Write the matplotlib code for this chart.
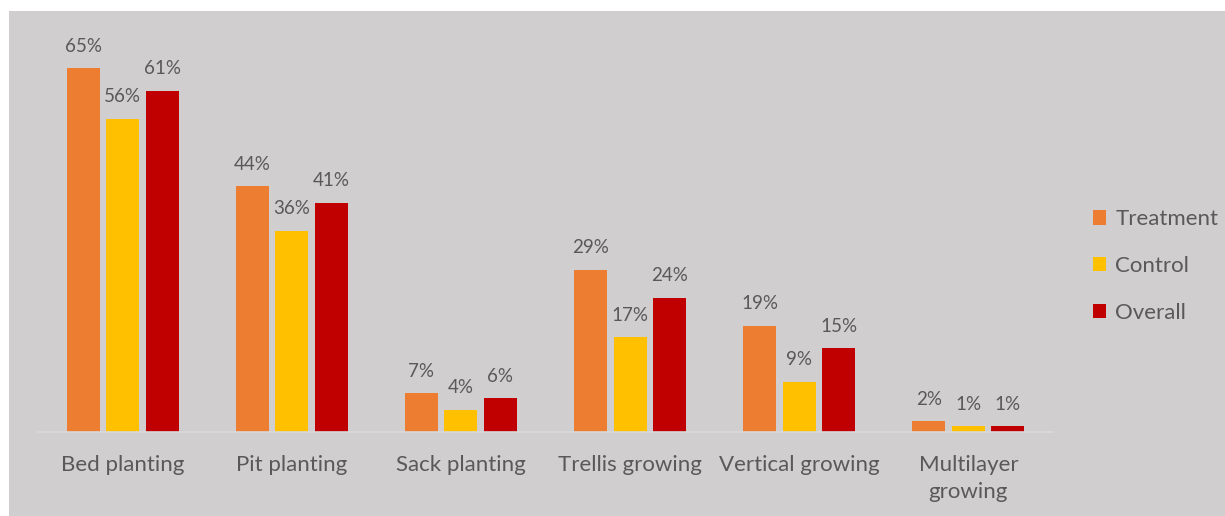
import matplotlib
matplotlib.use("Agg")
import matplotlib.pyplot as plt
from matplotlib.patches import Rectangle, Patch
import numpy as np

categories = ["Bed planting", "Pit planting", "Sack planting", "Trellis growing",
              "Vertical growing", "Multilayer\ngrowing"]
treatment = [65, 44, 7, 29, 19, 2]
control = [56, 36, 4, 17, 9, 1]
overall = [61, 41, 6, 24, 15, 1]

series_names = ["Treatment", "Control", "Overall"]
series_values = [treatment, control, overall]
series_colors = ["#ED7D31", "#FFC000", "#C00000"]

plt.rcParams["font.family"] = ["Lato", "DejaVu Sans"]
text_color = "#595959"
bg_color = "#D0CECE"

W, H = 1225, 516
fig = plt.figure(figsize=(W / 100, H / 100), dpi=100)
fig.patch.set_facecolor("white")
fig.patches.append(Rectangle((9 / W, 0), 1 - 9 / W, (H - 11) / H,
                             transform=fig.transFigure, facecolor=bg_color,
                             edgecolor="none", zorder=-10))

ax = fig.add_axes([38 / W, (H - 432) / H, (1053 - 38) / W, (432 - 29) / H])
ax.set_facecolor("none")

x = np.arange(len(categories))
width = 0.195
offsets = [-0.2335, 0.0, 0.2335]

for name, vals, col, off in zip(series_names, series_values, series_colors, offsets):
    bars = ax.bar(x + off, vals, width, color=col, label=name, zorder=2)
    for b, v in zip(bars, vals):
        ax.annotate(f"{v}%", (b.get_x() + b.get_width() / 2, b.get_height()),
                    xytext=(0, 9.5), textcoords="offset points",
                    ha="center", va="bottom", fontsize=13.5, color=text_color)

ax.set_xlim(-0.5, len(categories) - 0.5)
ax.set_ylim(0, 72)
ax.set_yticks([])
ax.set_xticks(x)
ax.set_xticklabels(categories, fontsize=16, color=text_color, linespacing=1.45)
ax.tick_params(axis="x", length=0, pad=16.5)
for s in ["top", "right", "left"]:
    ax.spines[s].set_visible(False)
ax.spines["bottom"].set_color("#D9D9D9")
ax.spines["bottom"].set_linewidth(1.2)

handles = [Patch(facecolor=c, edgecolor="none") for c in series_colors]
leg = fig.legend(handles, series_names, loc="center left",
                 bbox_to_anchor=(1073 / W, (H - 266) / H), frameon=False,
                 fontsize=16, handlelength=0.6, handleheight=0.6,
                 handletextpad=0.4, labelspacing=1.2)
for t in leg.get_texts():
    t.set_color(text_color)

fig.savefig("out.png", dpi=100)
